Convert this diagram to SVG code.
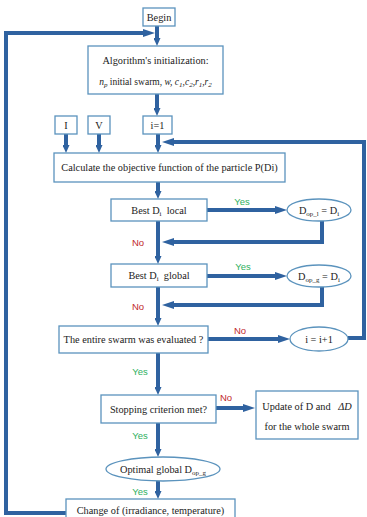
<svg xmlns="http://www.w3.org/2000/svg" width="367" height="517" viewBox="0 0 367 517">
<style>
.box{fill:#fff;stroke:#5b93bd;stroke-width:1.3}
.t{font-family:"Liberation Serif",serif;font-size:10.3px;fill:#222;text-anchor:middle}
.c{fill:none;stroke:#2f62a0;stroke-width:4;stroke-linejoin:miter}
.yes{font-family:"Liberation Sans",sans-serif;font-size:9.5px;fill:#2fb060;text-anchor:middle}
.no{font-family:"Liberation Sans",sans-serif;font-size:9.5px;fill:#c0282d;text-anchor:middle}
.sub{font-size:7px}
</style>
<defs>
<marker id="ah" viewBox="0 0 12 8" refX="1" refY="4" markerWidth="12" markerHeight="8" markerUnits="userSpaceOnUse" orient="auto">
<path d="M0,0 L12,4 L0,8 Z" fill="#2f62a0"/>
</marker>
<marker id="as" viewBox="0 0 8 7" refX="1" refY="3.5" markerWidth="8" markerHeight="7" markerUnits="userSpaceOnUse" orient="auto">
<path d="M0,0 L8,3.5 L0,7 Z" fill="#2f62a0"/>
</marker>
</defs>
<g id="connectors">
<path class="c" d="M157,26 V39" marker-end="url(#as)"/>
<path class="c" d="M66,513 H6 V33 H144" marker-end="url(#ah)"/>
<path class="c" d="M157,94 V109" marker-end="url(#as)"/>
<path class="c" d="M66,134 V146" marker-end="url(#as)"/>
<path class="c" d="M99,134 V146" marker-end="url(#as)"/>
<path class="c" d="M158,134 V146" marker-end="url(#as)"/>
<path class="c" d="M348,338 H364 V142 H173" marker-end="url(#ah)"/>
<path class="c" d="M158,182 V192" marker-end="url(#as)"/>
<path class="c" d="M207,210 H276" marker-end="url(#ah)"/>
<path class="c" d="M322,221 V242 H173" marker-end="url(#ah)"/>
<path class="c" d="M158,221 V257" marker-end="url(#as)"/>
<path class="c" d="M207,276 H276" marker-end="url(#ah)"/>
<path class="c" d="M322,287 V305 H173" marker-end="url(#ah)"/>
<path class="c" d="M158,287 V319" marker-end="url(#as)"/>
<path class="c" d="M208,339 H279" marker-end="url(#ah)"/>
<path class="c" d="M158,353 V388" marker-end="url(#as)"/>
<path class="c" d="M216,408 H244" marker-end="url(#ah)"/>
<path class="c" d="M158,423 V450" marker-end="url(#as)"/>
<path class="c" d="M158,481 V492" marker-end="url(#as)"/>
</g>
<g id="labels">
<text class="yes" x="242" y="205">Yes</text>
<text class="no" x="138" y="246">No</text>
<text class="yes" x="243" y="270">Yes</text>
<text class="no" x="138" y="310">No</text>
<text class="no" x="240" y="334">No</text>
<text class="yes" x="140" y="375">Yes</text>
<text class="no" x="226" y="401">No</text>
<text class="yes" x="140" y="439">Yes</text>
<text class="yes" x="140" y="495">Yes</text>
</g>
<g id="begin"><rect class="box" x="143" y="8" width="32" height="18"/><text class="t" x="159" y="21">Begin</text></g>
<g id="init"><rect class="box" x="88" y="46" width="135" height="48"/>
<text class="t" x="155.5" y="64">Algorithm's initialization:</text>
<text class="t" x="155.5" y="85" style="font-size:9.5px"><tspan font-style="italic">n</tspan><tspan class="sub" font-style="italic" dy="2">p</tspan><tspan dy="-2"> initial swarm, </tspan><tspan font-style="italic">w, c</tspan><tspan class="sub" font-style="italic" dy="2">1</tspan><tspan font-style="italic" dy="-2">,c</tspan><tspan class="sub" font-style="italic" dy="2">2</tspan><tspan font-style="italic" dy="-2">,r</tspan><tspan class="sub" font-style="italic" dy="2">1</tspan><tspan font-style="italic" dy="-2">,r</tspan><tspan class="sub" font-style="italic" dy="2">2</tspan></text>
</g>
<g id="inI"><rect class="box" x="55" y="116" width="22" height="18"/><text class="t" x="66" y="129">I</text></g>
<g id="inV"><rect class="box" x="88" y="116" width="22" height="18"/><text class="t" x="99" y="129">V</text></g>
<g id="i1"><rect class="box" x="143" y="116" width="29" height="18"/><text class="t" x="157.5" y="129">i=1</text></g>
<g id="calc"><rect class="box" x="54" y="153" width="231" height="29"/><text class="t" x="169.5" y="171">Calculate the objective function of the particle P(Di)</text></g>
<g id="bestLocal"><rect class="box" x="111" y="199" width="96" height="22"/><text class="t" x="159" y="214">Best D<tspan class="sub" dy="2">i</tspan><tspan dy="-2">&#160; local</tspan></text></g>
<g id="dopl"><ellipse class="box" cx="319" cy="210" rx="32" ry="11"/><text class="t" x="319" y="213.5">D<tspan class="sub" dy="2">op_l</tspan><tspan dy="-2"> = D</tspan><tspan class="sub" dy="2">i</tspan></text></g>
<g id="bestGlobal"><rect class="box" x="111" y="264" width="96" height="23"/><text class="t" x="159" y="279">Best D<tspan class="sub" dy="2">i</tspan><tspan dy="-2">&#160; global</tspan></text></g>
<g id="dopg"><ellipse class="box" cx="319" cy="276" rx="32" ry="11"/><text class="t" x="319" y="279.5">D<tspan class="sub" dy="2">op_g</tspan><tspan dy="-2"> = D</tspan><tspan class="sub" dy="2">i</tspan></text></g>
<g id="swarm"><rect class="box" x="59" y="326" width="149" height="27"/><text class="t" x="133.5" y="343">The entire swarm was evaluated ?</text></g>
<g id="inc"><ellipse class="box" cx="319" cy="339" rx="29" ry="12"/><text class="t" x="319" y="342.5">i = i+1</text></g>
<g id="stop"><rect class="box" x="101" y="395" width="115" height="28"/><text class="t" x="158.5" y="412.5">Stopping criterion met?</text></g>
<g id="update"><rect class="box" x="256" y="391" width="102" height="48"/>
<text class="t" x="307" y="410">Update of D and&#160;&#160; <tspan font-style="italic">ΔD</tspan></text>
<text class="t" x="307" y="430">for the whole swarm</text></g>
<g id="optimal"><ellipse class="box" cx="163" cy="469" rx="57" ry="12"/><text class="t" x="163" y="472.5">Optimal global D<tspan class="sub" dy="2">op_g</tspan></text></g>
<g id="change"><rect class="box" x="66" y="499" width="169" height="26"/><text class="t" x="150.5" y="514">Change of (irradiance, temperature)</text></g>
</svg>
